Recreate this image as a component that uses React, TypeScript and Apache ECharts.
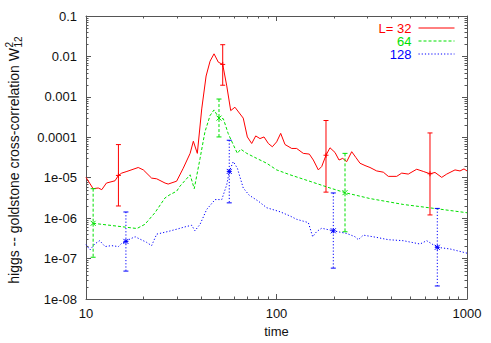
import React, { useEffect, useRef } from "react";
import * as echarts from "echarts";

// ---- data (time, W12^2) ----
const seriesNames = ["L= 32", "64", "128"];
const xTickLabels = ["10", "100", "1000"];
const yTickLabels = ["1e-08", "1e-07", "1e-06", "1e-05", "0.0001", "0.001", "0.01", "0.1"];

const red32: [number, number][] = [
  [10, 1.02e-5], [10.9, 5.35e-6], [11.6, 5.57e-6], [12.1, 5.06e-6], [12.8, 7.38e-6],
  [14.2, 8.4e-6], [14.8, 1.14e-5], [15.4, 1.3e-5], [16.4, 1.43e-5], [18.8, 1.79e-5],
  [20.0, 1.56e-5], [22.1, 9.78e-6], [23.5, 9.4e-6], [26.0, 7.38e-6], [27.0, 6.97e-6],
  [29.9, 8.2e-6], [32.4, 1.72e-5], [35.2, 4.0e-5], [36.6, 7.98e-5], [38.4, 4.0e-5],
  [40.5, 5.03e-4], [42.7, 3.28e-3], [44.8, 7.63e-3], [47.0, 1.16e-2], [49.5, 7.21e-3],
  [52.2, 6.34e-3], [54.8, 1.87e-3], [57.5, 4.57e-4], [60.5, 5.54e-4], [66.9, 2.98e-4],
  [70.3, 1.02e-4], [74.1, 7.02e-5], [77.8, 1.08e-4], [81.9, 9.29e-5], [86.0, 1.02e-4],
  [90.6, 7.02e-5], [95.1, 5.83e-5], [100.2, 7.72e-5], [105.2, 1.25e-4], [110.8, 6.63e-5],
  [120.2, 5.29e-5], [127.6, 5.29e-5], [138.2, 4.0e-5], [148.7, 3.84e-5], [156.1, 2.74e-5],
  [165.8, 1.56e-5], [172.7, 1.89e-5], [181.9, 3.6e-5], [190.9, 5.5e-5], [202.8, 4.22e-5],
  [212.9, 2.74e-5], [222.6, 3.01e-5], [233.6, 2.5e-5], [248.2, 4.4e-5], [261.5, 3.13e-5],
  [274.4, 2.28e-5], [291.5, 2.0e-5], [309.6, 1.79e-5], [335.7, 1.47e-5], [363.7, 1.37e-5],
  [386.3, 1.08e-5], [427.6, 1.08e-5], [454.2, 1.3e-5], [491.9, 1.23e-5], [544.5, 1.62e-5],
  [589.6, 1.43e-5], [639.4, 1.25e-5], [679.2, 1.35e-5], [736.8, 1.02e-5], [782.6, 1.23e-5],
  [865, 1.56e-5], [918.9, 1.47e-5], [964.5, 1.65e-5], [1000, 1.47e-5],
];

const green64: [number, number][] = [
  [10.9, 7.46e-7], [18.5, 5.54e-7], [20.4, 7.05e-7], [23.0, 1.36e-6], [26.0, 3.17e-6],
  [27.6, 3.82e-6], [29.9, 4.62e-6], [31.1, 6.13e-6], [35.2, 1.18e-5], [37.0, 5.35e-6],
  [39.7, 3.01e-5], [42.1, 1.36e-4], [44.8, 3.45e-4], [47.0, 4.75e-4], [49.9, 2.98e-4],
  [52.6, 2.87e-4], [55.8, 1.23e-4], [58.9, 7.02e-5], [62.3, 4.0e-5], [64.9, 5.09e-5],
  [69.8, 4.0e-5], [78.7, 3.01e-5], [88.8, 2.28e-5], [100.2, 1.56e-5], [117.8, 1.18e-5],
  [150.0, 8.12e-6], [190.9, 5.57e-6], [228.9, 4.27e-6], [309.6, 3.05e-6], [463.1, 2.18e-6],
  [693.4, 1.71e-6], [1000, 1.36e-6],
];

const blue128: [number, number][] = [
  [10, 2.21e-7], [10.5, 1.63e-7], [11.1, 2.29e-7], [11.8, 2.77e-7], [12.6, 1.98e-7],
  [13.6, 2.09e-7], [14.8, 1.98e-7], [15.4, 2.38e-7], [16.2, 2.66e-7], [17.0, 3.03e-7],
  [18.1, 3.47e-7], [19.2, 3.03e-7], [20.8, 2.52e-7], [22.1, 2.09e-7], [23.5, 4.02e-7],
  [27.0, 4.68e-7], [29.9, 5.32e-7], [33.1, 6.09e-7], [35.9, 6.67e-7], [37.3, 4.86e-7],
  [39.7, 7.05e-7], [43.0, 1.64e-6], [47.6, 2.88e-6], [51.6, 2.88e-6], [54.8, 6.71e-6],
  [56.5, 1.43e-5], [59.3, 2.5e-5], [62.3, 1.72e-5], [66.9, 5.57e-6], [71.9, 3.69e-6],
  [80.3, 2.63e-6], [88.8, 1.81e-6], [104.3, 1.44e-6], [117.8, 1.13e-6], [127.6, 9.35e-7],
  [146.9, 7.76e-7], [154.9, 3.47e-7], [162.6, 4.68e-7], [172.7, 5.63e-7], [198.7, 4.86e-7],
  [233.6, 4.18e-7], [258.4, 3.47e-7], [268.8, 2.93e-7], [285.5, 3.8e-7], [335.7, 3.34e-7],
  [386.3, 2.93e-7], [463.1, 2.77e-7], [566.6, 2.29e-7], [614.4, 2.77e-7], [698.4, 1.9e-7],
  [814.3, 1.73e-7], [1000, 1.36e-7],
];

// error bars: [time, value, low, high]
const redErr: number[][] = [
  [14.8, 1.14e-5, 2.0e-6, 6.6e-5],
  [52.2, 6.34e-3, 1.94e-3, 1.95e-2],
  [181.9, 3.6e-5, 4.4e-6, 2.6e-4],
  [639.4, 1.25e-5, 1.2e-6, 1.28e-4],
];
const greenErr: number[][] = [
  [10.9, 7.46e-7, 1.08e-7, 5.35e-6],
  [49.9, 2.98e-4, 1.02e-4, 8.83e-4],
  [228.9, 4.27e-6, 4.6e-7, 4.0e-5],
];
const blueErr: number[][] = [
  [16.2, 2.66e-7, 4.9e-8, 1.42e-6],
  [56.5, 1.43e-5, 2.39e-6, 8.44e-5],
  [198.7, 4.86e-7, 5.8e-8, 4.2e-6],
  [698.4, 1.9e-7, 2.1e-8, 1.74e-6],
];

const X_MIN = 10, X_MAX = 1000, Y_MIN = 1e-8, Y_MAX = 0.1;

// minor tick positions of the log axes (2..9 within each decade)
const minorX: number[] = [];
for (const d of [10, 100]) for (let k = 2; k <= 9; k++) minorX.push(d * k);
const minorY: number[] = [];
for (let e = -8; e < -1; e++) for (let k = 2; k <= 9; k++) minorY.push(k * Math.pow(10, e));

const COLORS = ["#ff0000", "#00e000", "#0000ff"];
const DASHES: any[] = ["solid", [3, 2], [1.2, 2]];
const FONT = "Liberation Sans, Arial, Helvetica, sans-serif";
const AXIS_COLOR = "#555";

function capRender(i: number, marker: "plus" | "cross" | "star") {
  return (params: any, api: any) => {
    const t = api.value(0), c = api.value(1), lo = api.value(2), hi = api.value(3);
    const pc = api.coord([t, c]);
    const pl = api.coord([t, lo]);
    const ph = api.coord([t, hi]);
    const x = pc[0];
    const mk = () => ({ stroke: COLORS[i], lineWidth: 1 });
    const cap = 2.5, m = 2.5;
    const children: any[] = [
      { type: "line", shape: { x1: x - cap, y1: pl[1], x2: x + cap, y2: pl[1] }, style: mk() },
      { type: "line", shape: { x1: x - cap, y1: ph[1], x2: x + cap, y2: ph[1] }, style: mk() },
    ];
    const y = pc[1];
    if (marker === "plus" || marker === "star") {
      children.push({ type: "line", shape: { x1: x - m, y1: y, x2: x + m, y2: y }, style: mk() });
      children.push({ type: "line", shape: { x1: x, y1: y - m, x2: x, y2: y + m }, style: mk() });
    }
    if (marker === "cross" || marker === "star") {
      children.push({ type: "line", shape: { x1: x - m, y1: y - m, x2: x + m, y2: y + m }, style: mk() });
      children.push({ type: "line", shape: { x1: x - m, y1: y + m, x2: x + m, y2: y - m }, style: mk() });
    }
    return { type: "group", children };
  };
}

export default function App() {
  const ref = useRef<HTMLDivElement>(null);

  useEffect(() => {
    if (!ref.current) return;
    const chart = echarts.init(ref.current, null, { renderer: "svg" });

    const baseX = {
      type: "log" as const,
      logBase: 10,
      min: X_MIN,
      max: X_MAX,
      splitLine: { show: false },
      axisLine: { show: true, onZero: false, lineStyle: { color: AXIS_COLOR, width: 1 } },
      axisTick: { show: true, inside: true, length: 5, lineStyle: { color: AXIS_COLOR } },
      minorTick: { show: false },
    };
    const baseY = {
      type: "log" as const,
      logBase: 10,
      min: Y_MIN,
      max: Y_MAX,
      splitNumber: 7,
      splitLine: { show: false },
      axisLine: { show: true, onZero: false, lineStyle: { color: AXIS_COLOR, width: 1 } },
      axisTick: { show: true, inside: true, length: 5, lineStyle: { color: AXIS_COLOR } },
      minorTick: { show: false },
    };

    const lineSeries = [red32, green64, blue128].map((d, i) => ({
      type: "line",
      name: seriesNames[i],
      data: d,
      showSymbol: false,
      symbol: "none",
      lineStyle: { color: COLORS[i], width: 1, type: DASHES[i] },
      itemStyle: { color: COLORS[i] },
      z: 3 + i,
    }));

    // vertical error bar stems, one short line series per bar (same colour / dash as its curve)
    const stemSeries: any[] = [];
    [redErr, greenErr, blueErr].forEach((errs, i) => {
      errs.forEach((e, k) => {
        stemSeries.push({
          type: "line",
          name: `${seriesNames[i]} bar ${k}`,
          data: [[e[0], e[3]], [e[0], e[2]]],
          showSymbol: false,
          symbol: "none",
          lineStyle: { color: COLORS[i], width: 1, type: DASHES[i] },
          itemStyle: { color: COLORS[i] },
          z: 3 + i,
          silent: true,
        });
      });
    });

    const markers: ("plus" | "cross" | "star")[] = ["plus", "cross", "star"];
    const capSeries = [redErr, greenErr, blueErr].map((d, i) => ({
      type: "custom",
      name: seriesNames[i] + " caps",
      data: d,
      encode: { x: 0, y: 1 },
      renderItem: capRender(i, markers[i]),
      itemStyle: { color: COLORS[i] },
      z: 3 + i,
      silent: true,
    }));

    const yTitle = {
      type: "group",
      x: 14,
      y: 160,
      rotation: Math.PI / 2,
      children: [
        {
          type: "text",
          x: 112,
          y: 0,
          style: {
            text: "higgs -- goldstone cross-correlation W",
            fill: "#111",
            font: `14px ${FONT}`,
            textAlign: "right",
            textVerticalAlign: "middle",
          },
        },
        {
          type: "text",
          x: 112.5,
          y: 4,
          style: { text: "12", fill: "#111", font: `10px ${FONT}`, textAlign: "left", textVerticalAlign: "middle" },
        },
        {
          type: "text",
          x: 112.5,
          y: -5,
          style: { text: "2", fill: "#111", font: `10px ${FONT}`, textAlign: "left", textVerticalAlign: "middle" },
        },
      ],
    };

    chart.setOption({
      animation: false,
      backgroundColor: "#ffffff",
      textStyle: { fontFamily: FONT },
      grid: { left: 86, right: 24, top: 16, bottom: 41, containLabel: false },
      legend: {
        data: seriesNames.map((n, i) => ({ name: n, textStyle: { color: COLORS[i] } })),
        orient: "vertical",
        align: "right",
        right: 36,
        top: 21.5,
        padding: 0,
        itemGap: 0,
        itemWidth: 36,
        itemHeight: 13,
        selectedMode: false,
        itemStyle: { opacity: 0 },
        lineStyle: { width: 1 },
        textStyle: { fontSize: 13, fontFamily: FONT, padding: [0, 2, 0, 0], lineHeight: 13 },
      },
      xAxis: [
        {
          ...baseX,
          position: "bottom",
          name: "time",
          nameLocation: "middle",
          nameGap: 26,
          nameTextStyle: { color: "#111", fontSize: 13, fontFamily: FONT },
          axisLabel: {
            show: true,
            margin: 8,
            color: "#111",
            fontSize: 13,
            fontFamily: FONT,
            formatter: (v: number) => xTickLabels[Math.round(Math.log10(v)) - 1] ?? "",
          },
        },
        { ...baseX, position: "top", axisLabel: { show: false } },
      ],
      yAxis: [
        {
          ...baseY,
          position: "left",
          axisLabel: {
            show: true,
            margin: 9,
            color: "#111",
            fontSize: 13,
            fontFamily: FONT,
            formatter: (v: number) => yTickLabels[Math.round(Math.log10(v)) + 8] ?? "",
          },
        },
        { ...baseY, position: "right", axisLabel: { show: false } },
      ],
      graphic: [yTitle],
      series: [
        {
          type: "custom",
          name: "minorX",
          data: minorX.map((t) => [t, 1e-4]),
          encode: { x: 0, y: 1 },
          silent: true,
          z: 1,
          renderItem: (params: any, api: any) => {
            const cs = params.coordSys;
            const p = api.coord([api.value(0), api.value(1)]);
            const x = Math.round(p[0]) + 0.5;
            return {
              type: "group",
              children: [
                { type: "line", shape: { x1: x, y1: cs.y + cs.height, x2: x, y2: cs.y + cs.height - 2.5 }, style: { stroke: AXIS_COLOR, lineWidth: 1 } },
                { type: "line", shape: { x1: x, y1: cs.y, x2: x, y2: cs.y + 2.5 }, style: { stroke: AXIS_COLOR, lineWidth: 1 } },
              ],
            };
          },
        },
        {
          type: "custom",
          name: "minorY",
          data: minorY.map((v) => [100, v]),
          encode: { x: 0, y: 1 },
          silent: true,
          z: 1,
          renderItem: (params: any, api: any) => {
            const cs = params.coordSys;
            const p = api.coord([api.value(0), api.value(1)]);
            const y = Math.round(p[1]) + 0.5;
            return {
              type: "group",
              children: [
                { type: "line", shape: { x1: cs.x, y1: y, x2: cs.x + 2.5, y2: y }, style: { stroke: AXIS_COLOR, lineWidth: 1 } },
                { type: "line", shape: { x1: cs.x + cs.width, y1: y, x2: cs.x + cs.width - 2.5, y2: y }, style: { stroke: AXIS_COLOR, lineWidth: 1 } },
              ],
            };
          },
        },
        ...lineSeries,
        ...stemSeries,
        ...capSeries,
      ],
    });

    return () => chart.dispose();
  }, []);

  return (
    <div
      ref={ref}
      style={{ position: "fixed", left: 0, top: 0, width: 491, height: 343, background: "#fff" }}
    />
  );
}
